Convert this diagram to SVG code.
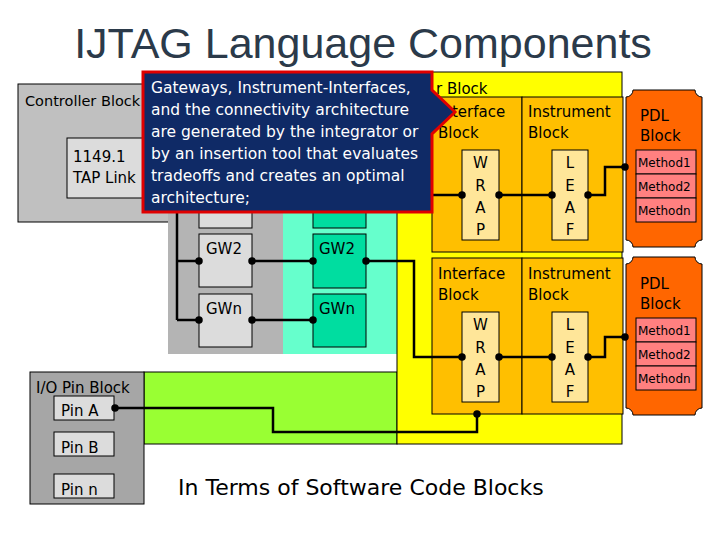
<svg xmlns="http://www.w3.org/2000/svg" width="720" height="540" viewBox="0 0 720 540">
<style>
text{font-family:"DejaVu Sans","Liberation Sans",sans-serif;fill:#000}
.l{font-size:15px}
.s{font-size:12px}
.k{stroke:#000;stroke-width:1;}
.w{stroke:#000;stroke-width:2.5;fill:none}
.co{font-size:15.5px;fill:#fff}
</style>
<defs><marker id="d" viewBox="0 0 6 6" refX="3" refY="3" markerWidth="3" markerHeight="3"><circle cx="3" cy="3" r="3" fill="#000"/></marker></defs>
<rect width="720" height="540" fill="#fff"/>
<text x="363" y="58" text-anchor="middle" style="font-family:'Liberation Sans',sans-serif;font-size:43px;fill:#2b3a4a">IJTAG Language Components</text>
<g id="controller"><rect x="18" y="84" width="180" height="138" fill="#c0c0c0" class="k"/><text x="25" y="106" style="font-size:14.5px">Controller Block</text>
<rect x="67" y="138" width="100" height="60" fill="#dcdcdc" class="k"/><text x="73" y="162" class="l">1149.1</text><text x="73" y="183" class="l">TAP Link</text></g>
<g id="green"><rect x="144" y="372" width="253" height="72" fill="#99ff33" class="k"/></g>
<g id="graycol"><rect x="168" y="130" width="115" height="224" fill="#b4b4b4"/>
<rect x="199" y="175" width="53" height="53" fill="#dcdcdc" class="k"/>
<rect x="199" y="234" width="53" height="53" fill="#dcdcdc" class="k"/><text x="206" y="254" class="l" fill="#333">GW2</text>
<rect x="199" y="294" width="53" height="53" fill="#dcdcdc" class="k"/><text x="206" y="314" class="l">GWn</text></g>
<g id="tealcol"><rect x="283" y="130" width="114" height="224" fill="#66ffcc"/>
<rect x="313" y="175" width="53" height="53" fill="#00dda0" class="k"/>
<rect x="313" y="234" width="53" height="54" fill="#00dda0" class="k"/><text x="319" y="254" class="l">GW2</text>
<rect x="313" y="294" width="53" height="53" fill="#00dda0" class="k"/><text x="319" y="314" class="l">GWn</text></g>
<g id="yellow"><rect x="397" y="72" width="225" height="372" fill="#ffff00" class="k"/><text x="436" y="94" class="l">r Block</text></g>
<g id="iface1"><rect x="432" y="97" width="90" height="155" fill="#ffbf00" class="k"/><text x="438" y="117" class="l">Interface</text><text x="438" y="138" class="l">Block</text>
<rect x="462" y="150" width="37" height="90" fill="#ffe699" class="k"/>
<text x="480.5" y="168" class="l" text-anchor="middle">W</text><text x="480.5" y="191" class="l" text-anchor="middle">R</text><text x="480.5" y="213" class="l" text-anchor="middle">A</text><text x="480.5" y="235" class="l" text-anchor="middle">P</text></g>
<g id="inst1"><rect x="522" y="97" width="101" height="155" fill="#ffbf00" class="k"/><text x="528" y="117" class="l">Instrument</text><text x="528" y="138" class="l">Block</text>
<rect x="552" y="150" width="36" height="90" fill="#ffe699" class="k"/>
<text x="570" y="168" class="l" text-anchor="middle">L</text><text x="570" y="191" class="l" text-anchor="middle">E</text><text x="570" y="213" class="l" text-anchor="middle">A</text><text x="570" y="235" class="l" text-anchor="middle">F</text></g>
<g id="iface2"><rect x="432" y="258" width="90" height="156" fill="#ffbf00" class="k"/><text x="438" y="279" class="l">Interface</text><text x="438" y="300" class="l">Block</text>
<rect x="462" y="312" width="37" height="90" fill="#ffe699" class="k"/>
<text x="480.5" y="330" class="l" text-anchor="middle">W</text><text x="480.5" y="353" class="l" text-anchor="middle">R</text><text x="480.5" y="375" class="l" text-anchor="middle">A</text><text x="480.5" y="397" class="l" text-anchor="middle">P</text></g>
<g id="inst2"><rect x="522" y="258" width="101" height="156" fill="#ffbf00" class="k"/><text x="528" y="279" class="l">Instrument</text><text x="528" y="300" class="l">Block</text>
<rect x="552" y="312" width="36" height="90" fill="#ffe699" class="k"/>
<text x="570" y="330" class="l" text-anchor="middle">L</text><text x="570" y="353" class="l" text-anchor="middle">E</text><text x="570" y="375" class="l" text-anchor="middle">A</text><text x="570" y="397" class="l" text-anchor="middle">F</text></g>
<g id="pdl1"><path d="M633 90 H695 a7 7 0 0 0 7 7 V240 a7 7 0 0 0 -7 7 H633 a7 7 0 0 0 -7 -7 V97 a7 7 0 0 0 7 -7 Z" fill="#ff6600" class="k"/>
<text x="640" y="121" class="l">PDL</text><text x="640" y="141" class="l">Block</text>
<rect x="636" y="150" width="60" height="24" fill="#ff8080" class="k"/><text x="638" y="167" class="s">Method1</text>
<rect x="636" y="174" width="60" height="24" fill="#ff8080" class="k"/><text x="638" y="191" class="s">Method2</text>
<rect x="636" y="198" width="60" height="24" fill="#ff8080" class="k"/><text x="638" y="215" class="s">Methodn</text></g>
<g id="pdl2"><path d="M633 257 H695 a7 7 0 0 0 7 7 V408 a7 7 0 0 0 -7 7 H633 a7 7 0 0 0 -7 -7 V264 a7 7 0 0 0 7 -7 Z" fill="#ff6600" class="k"/>
<text x="640" y="289" class="l">PDL</text><text x="640" y="309" class="l">Block</text>
<rect x="636" y="318" width="60" height="24" fill="#ff8080" class="k"/><text x="638" y="335" class="s">Method1</text>
<rect x="636" y="342" width="60" height="24" fill="#ff8080" class="k"/><text x="638" y="359" class="s">Method2</text>
<rect x="636" y="366" width="60" height="24" fill="#ff8080" class="k"/><text x="638" y="383" class="s">Methodn</text></g>
<g id="io"><rect x="30" y="372" width="114" height="132" fill="#a6a6a6" class="k"/><text x="36" y="393" class="l">I/O Pin Block</text>
<rect x="54" y="396" width="60" height="24" fill="#dcdcdc" class="k"/><text x="61" y="416" class="l">Pin A</text>
<rect x="54" y="432" width="60" height="24" fill="#dcdcdc" class="k"/><text x="61" y="453" class="l">Pin B</text>
<rect x="54" y="474" width="60" height="24" fill="#dcdcdc" class="k"/><text x="61" y="495" class="l">Pin n</text></g>
<g id="connectors">
<path class="w" d="M177 200 V320"/>
<path class="w" d="M177 261 H199" marker-end="url(#d)"/>
<path class="w" d="M177 320 H199" marker-end="url(#d)"/>
<path class="w" d="M252 261 H313" marker-start="url(#d)" marker-end="url(#d)"/>
<path class="w" d="M252 320 H313" marker-start="url(#d)" marker-end="url(#d)"/>
<path class="w" d="M366 261 H414 V357 H462" marker-start="url(#d)" marker-end="url(#d)"/>
<path class="w" d="M499 357 H552" marker-start="url(#d)" marker-end="url(#d)"/>
<path class="w" d="M588 357 H605 V337 H625" marker-start="url(#d)" marker-end="url(#d)"/>
<path class="w" d="M420 195 H462" marker-end="url(#d)"/>
<path class="w" d="M499 195 H552" marker-start="url(#d)" marker-end="url(#d)"/>
<path class="w" d="M588 195 H605 V167 H625" marker-start="url(#d)" marker-end="url(#d)"/>
<path class="w" d="M115 408 H273 V432 H477 V414" marker-start="url(#d)" marker-end="url(#d)"/>
</g>
<g id="callout"><path d="M143 72 H432 V90 L455 112 L432 134 V212 H143 Z" fill="#0f2a66" stroke="#e00000" stroke-width="3"/>
<text x="151" y="93" class="co">Gateways, Instrument-Interfaces,</text>
<text x="151" y="115" class="co">and the connectivity architecture</text>
<text x="151" y="137" class="co">are generated by the integrator or</text>
<text x="151" y="159" class="co">by an insertion tool that evaluates</text>
<text x="151" y="181" class="co">tradeoffs and creates an optimal</text>
<text x="151" y="203" class="co">architecture;</text></g>
<text x="178" y="495" style="font-size:22px">In Terms of Software Code Blocks</text>
</svg>
